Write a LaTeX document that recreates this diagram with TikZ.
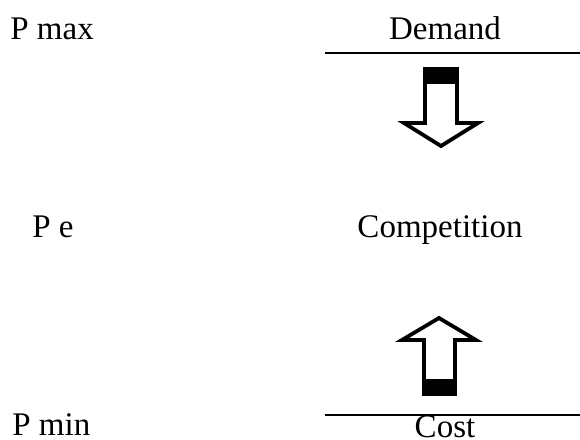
\documentclass[tikz,border=0pt]{standalone}
\usepackage{fontspec}
\setmainfont{Liberation Serif}
\usetikzlibrary{positioning,calc}

\begin{document}
\begin{tikzpicture}[
    x=0.5pt, y=-0.5pt,
    label/.style={inner sep=0pt, font=\fontsize{16.5}{20}\selectfont},
    rule/.style={line width=0.7pt},
    blockarrow/.style={draw, line width=1.9pt, fill=white, line join=miter},
    arrowcap/.style={fill=black}
]
\useasboundingbox (0,0) rectangle (580,440);

% Row 1: maximum price set by demand
\node[label, anchor=base west] (pmax) at (10,39) {P max};
\node[label, anchor=base] (demand) at (445,39) {Demand};
\coordinate (demL) at (325,53);
\coordinate (demR) at (580,53);
\draw[rule] (demL) -- (demR);

% Downward block arrow
\draw[blockarrow] (425,69) -- (457,69) -- (457,123) -- (478,123) -- (441,146)
    -- (404,123) -- (425,123) -- cycle;
\fill[arrowcap] (424,68) rectangle (458,84);

% Row 2: equilibrium price
\node[label, anchor=base west] (pe) at (32,237) {P e};
\node[label, anchor=base] (competition) at (440,237) {Competition};

% Upward block arrow
\draw[blockarrow] (424,394) -- (455,394) -- (455,340) -- (476,340) -- (439,318)
    -- (402,340) -- (424,340) -- cycle;
\fill[arrowcap] (423,379) rectangle (456,395);

% Row 3: minimum price set by cost
\coordinate (costL) at (325,415);
\coordinate (costR) at (580,415);
\draw[rule] (costL) -- (costR);
\node[label, anchor=base west] (pmin) at (12,435) {P min};
\node[label, anchor=base] (cost) at (445,437) {Cost};

\end{tikzpicture}
\end{document}
